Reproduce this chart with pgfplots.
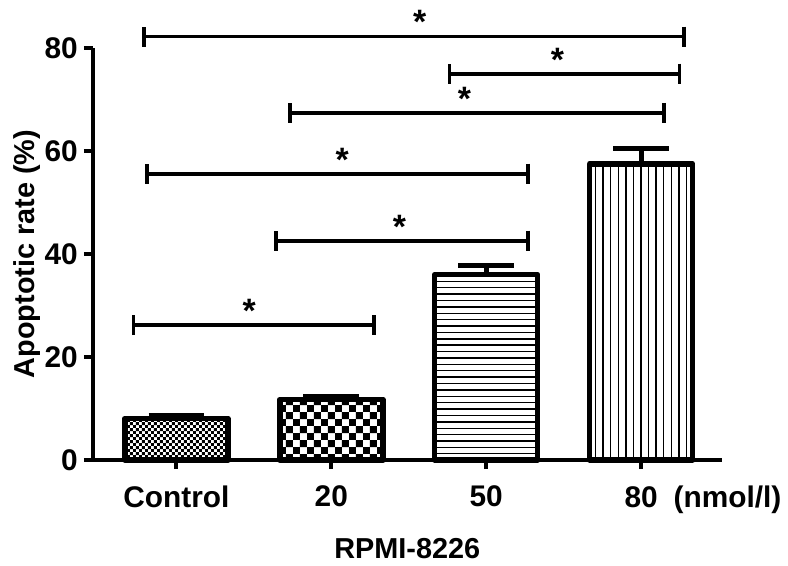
\documentclass[border=0pt]{standalone}
\usepackage{fontspec}
\setmainfont{Liberation Sans}
\usepackage{pgfplots}
\pgfplotsset{compat=1.18}
\usetikzlibrary{patterns,arrows.meta}

% bar fills
\pgfdeclarepatternformonly{checkfine}{\pgfpointorigin}{\pgfpoint{3.2bp}{3.2bp}}{\pgfpoint{3.2bp}{3.2bp}}{%
  \pgfpathrectangle{\pgfpointorigin}{\pgfpoint{1.6bp}{1.6bp}}%
  \pgfpathrectangle{\pgfpoint{1.6bp}{1.6bp}}{\pgfpoint{1.6bp}{1.6bp}}%
  \pgfusepath{fill}}
\pgfdeclarepatternformonly{checkbig}{\pgfpointorigin}{\pgfpoint{7bp}{7bp}}{\pgfpoint{7bp}{7bp}}{%
  \pgfpathrectangle{\pgfpointorigin}{\pgfpoint{3.5bp}{3.5bp}}%
  \pgfpathrectangle{\pgfpoint{3.5bp}{3.5bp}}{\pgfpoint{3.5bp}{3.5bp}}%
  \pgfusepath{fill}}
\pgfdeclarepatternformonly{hstripes}{\pgfpoint{-1bp}{-1bp}}{\pgfpoint{4bp}{4bp}}{\pgfpoint{3.2bp}{3.2bp}}{%
  \pgfsetlinewidth{0.7bp}%
  \pgfpathmoveto{\pgfpoint{-1bp}{1.6bp}}\pgfpathlineto{\pgfpoint{4bp}{1.6bp}}%
  \pgfusepath{stroke}}
\pgfdeclarepatternformonly{vstripes}{\pgfpoint{-1bp}{-1bp}}{\pgfpoint{4.8bp}{4.8bp}}{\pgfpoint{3.8bp}{3.8bp}}{%
  \pgfsetlinewidth{0.7bp}%
  \pgfpathmoveto{\pgfpoint{1.9bp}{-1bp}}\pgfpathlineto{\pgfpoint{1.9bp}{4.8bp}}%
  \pgfusepath{stroke}}

\begin{document}
\begin{tikzpicture}
\begin{axis}[
    width=315bp, height=206.5bp,
    scale only axis,
    clip=false,
    axis lines*=left,
    axis line style={line width=2bp},
    xmin=-0.54, xmax=3.52,
    ymin=0, ymax=80,
    ytick={0,20,40,60,80},
    xtick={0,1,2,3},
    xticklabels={Control,20,50,{\phantom{(nmol/l)\hspace{8bp}}80\hspace{8bp}(nmol/l)}},
    tick align=outside,
    major tick length=4.5bp,
    tick style={line width=2bp, black},
    tick label style={font=\fontsize{15}{17}\selectfont\bfseries},
    /pgf/number format/assume math mode=true,
    yticklabel style={xshift=0.5bp},
    xticklabel style={yshift=-5bp},
    xlabel={RPMI-8226},
    ylabel={Apoptotic rate (\%)},
    label style={font=\fontsize{14.5}{16}\selectfont\bfseries},
    xlabel style={yshift=-5.5bp},
    ylabel style={yshift=-5bp},
    every axis plot/.append style={ybar, bar width=0.665, bar shift=0,
      draw=black, line width=2.7bp, line join=round,
      error bars/y dir=plus, error bars/y explicit,
      error bars/error bar style={line width=2.5bp},
      error bars/error mark options={rotate=90, mark size=14bp, line width=2.7bp}},
  ]
  \addplot[pattern=checkfine] coordinates {(0,8.1) +- (0,0.5)};
  \addplot[pattern=checkbig] coordinates {(1,11.8) +- (0,0.6)};
  \addplot[pattern=hstripes] coordinates {(2,36.0) +- (0,1.8)};
  \addplot[pattern=vstripes] coordinates {(3,57.5) +- (0,3.0)};

  % significance brackets
  \foreach \xa/\xb/\yy/\xs in {-0.22/3.29/82.2/1.57, 1.75/3.26/75.0/2.46,
      0.72/3.16/67.4/1.86, -0.20/2.28/55.6/1.07, 0.63/2.28/42.6/1.44,
      -0.29/1.29/26.2/0.47} {
    \edef\temp{\noexpand\draw[line width=1.9bp,
        {Bar[width=10bp,line width=1.9bp]}-{Bar[width=10bp,line width=1.9bp]}]
        (axis cs:\xa,\yy) -- (axis cs:\xb,\yy);
      \noexpand\node[anchor=base, inner sep=0pt, font=\noexpand\fontsize{17}{17}\noexpand\selectfont\noexpand\bfseries]
        at (axis cs:\xs,\yy+0.5) {*};}
    \temp
  }
  \coordinate (bl) at (rel axis cs:-0.1476,-0.2494);
  \coordinate (tr) at (rel axis cs:1.1032,1.1162);
\end{axis}
\useasboundingbox (bl) rectangle (tr);
\end{tikzpicture}
\end{document}
